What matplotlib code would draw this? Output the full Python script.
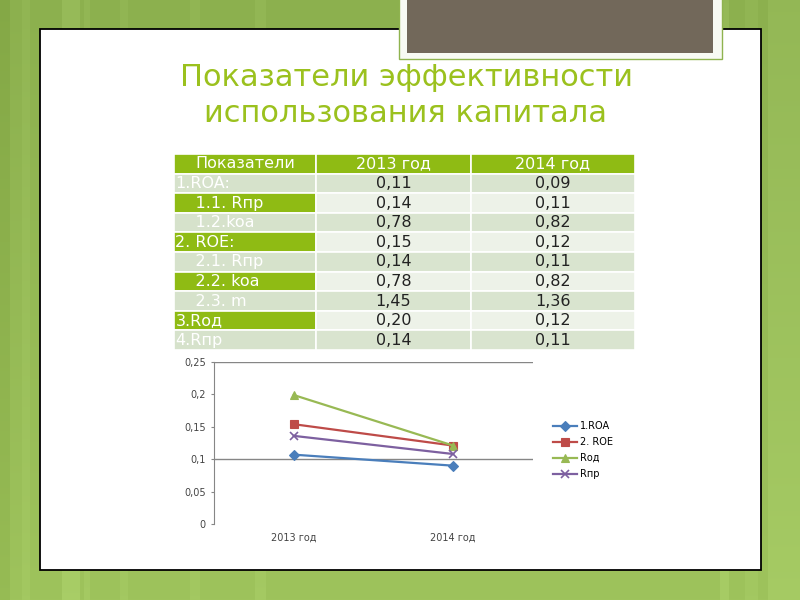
import numpy as np
import matplotlib
matplotlib.use('Agg')
import matplotlib.pyplot as plt
from matplotlib.patches import Rectangle
from matplotlib.ticker import FuncFormatter, MultipleLocator

# ---------------- data ----------------
title_lines = ["Показатели эффективности", "использования капитала"]

table_header = ["Показатели", "2013 год", "2014 год"]
row_labels = ["1.ROA:", "    1.1. Rпр", "    1.2.koa", "2. ROE:", "    2.1. Rпр",
              "    2.2. koa", "    2.3. m", "3.Rод", "4.Rпр"]
vals_2013 = [0.11, 0.14, 0.78, 0.15, 0.14, 0.78, 1.45, 0.20, 0.14]
vals_2014 = [0.09, 0.11, 0.82, 0.12, 0.11, 0.82, 1.36, 0.12, 0.11]

years = ["2013 год", "2014 год"]
series_names = ["1.ROA", "2. ROE", "Rод", "Rпр"]
roa = [0.107, 0.090]
roe = [0.154, 0.121]
rod = [0.199, 0.121]
rpr = [0.136, 0.108]

# ---------------- figure ----------------
plt.rcParams['font.family'] = ['DejaVu Sans']
fig = plt.figure(figsize=(8, 6), dpi=100)

bg = fig.add_axes([0, 0, 1, 1])
bg.set_xlim(0, 800)
bg.set_ylim(600, 0)
bg.axis('off')

# green striped slide background
H, W = 600, 800
yy = np.linspace(0, 1, H)[:, None, None]
c_top = np.array([0x8c, 0xb0, 0x4e]) / 255
c_bot = np.array([0x9e, 0xc3, 0x5c]) / 255
img = np.broadcast_to(c_top * (1 - yy) + c_bot * yy, (H, W, 3)).copy()
for x0, x1, amt in [(0, 10, -0.03), (22, 30, 0.02), (62, 80, 0.04), (84, 90, 0.025),
                    (120, 128, 0.02), (190, 200, 0.02), (255, 266, 0.025),
                    (720, 729, 0.035), (745, 758, 0.02), (768, 800, 0.03)]:
    img[:, x0:x1, :] += amt
img = np.clip(img, 0, 1)
bg.imshow(img, extent=(0, 800, 600, 0), aspect='auto', zorder=0, interpolation='bilinear')

# white content panel
bg.add_patch(Rectangle((40, 29), 721, 541, facecolor='white', edgecolor='black',
                       lw=1.3, zorder=1))
# dark box at the top
bg.add_patch(Rectangle((399, -5), 323, 64, facecolor='#f8faf3', edgecolor='#8fb34f',
                       lw=1, zorder=2))
bg.add_patch(Rectangle((407, -5), 306, 58, facecolor='#72685a', edgecolor='none', zorder=3))

# title
for line, yb in zip(title_lines, [86, 122]):
    bg.text(406, yb, line, ha='center', va='baseline', fontsize=22,
            color='#9bc11e', zorder=4)

# ---------------- table ----------------
def fmt(v):
    return f"{v:.2f}".replace('.', ',')

cell_text = [[lab, fmt(a), fmt(b)] for lab, a, b in zip(row_labels, vals_2013, vals_2014)]

tax = fig.add_axes([174 / 800, 1 - 350 / 600, 461 / 800, 196 / 600])
tax.axis('off')
tbl = tax.table(cellText=cell_text, colLabels=table_header,
                colWidths=[142 / 461, 155 / 461, 164 / 461],
                bbox=[0, 0, 1, 1], cellLoc='center')
tbl.auto_set_font_size(False)
tbl.set_fontsize(11.5)
GREEN = '#8fbb14'
for (r, c), cell in tbl.get_celld().items():
    cell.set_edgecolor('white')
    cell.set_linewidth(1.2)
    txt = cell.get_text()
    if r == 0:
        cell.set_facecolor(GREEN)
        txt.set_color('white')
    elif c == 0:
        cell.set_facecolor(GREEN if (r - 1) % 2 == 1 else '#d6e2cb')
        txt.set_color('white')
        cell._loc = 'left'
        cell.PAD = 0.01
        txt.set_ha('left')
    else:
        cell.set_facecolor('#d9e4cf' if (r - 1) % 2 == 0 else '#edf2e8')
        txt.set_color('#222222')

# ---------------- chart ----------------
cax = fig.add_axes([214 / 800, 76 / 600, 319 / 800, 162 / 600])
cax.set_xlim(-0.5, 1.5)
cax.set_ylim(0, 0.25)
x = np.arange(len(years))
styles = [('#4a7ebb', 'D', 5), ('#be4b48', 's', 5.5), ('#98b954', '^', 6), ('#7d60a0', 'x', 5.5)]
for vals, name, (col, mk, ms) in zip([roa, roe, rod, rpr], series_names, styles):
    cax.plot(x, vals, color=col, marker=mk, ms=ms, lw=1.6, label=name, zorder=3,
             mew=1.2 if mk == 'x' else 0.8)

for gv in [0.1, 0.25]:
    cax.axhline(gv, color='#868686', lw=1, zorder=1)

cax.set_xticks(x)
cax.set_xticklabels(years)
cax.yaxis.set_major_locator(MultipleLocator(0.05))
cax.yaxis.set_major_formatter(FuncFormatter(lambda v, _: ('%g' % round(v, 2)).replace('.', ',')))
cax.tick_params(axis='x', length=0, pad=6, labelsize=7, labelcolor='#444444')
cax.tick_params(axis='y', length=2, pad=4, labelsize=7, labelcolor='#444444', color='#868686')
for s in ['top', 'right', 'bottom']:
    cax.spines[s].set_visible(False)
cax.spines['left'].set_color('#868686')
cax.patch.set_alpha(0)

cax.legend(loc='center left', bbox_to_anchor=(553 / 800, 1 - 450 / 600),
           bbox_transform=fig.transFigure, frameon=False, fontsize=7,
           handlelength=2.5, handletextpad=0.25, labelspacing=0.62,
           borderpad=0, borderaxespad=0)

fig.savefig('out.png', dpi=100)
